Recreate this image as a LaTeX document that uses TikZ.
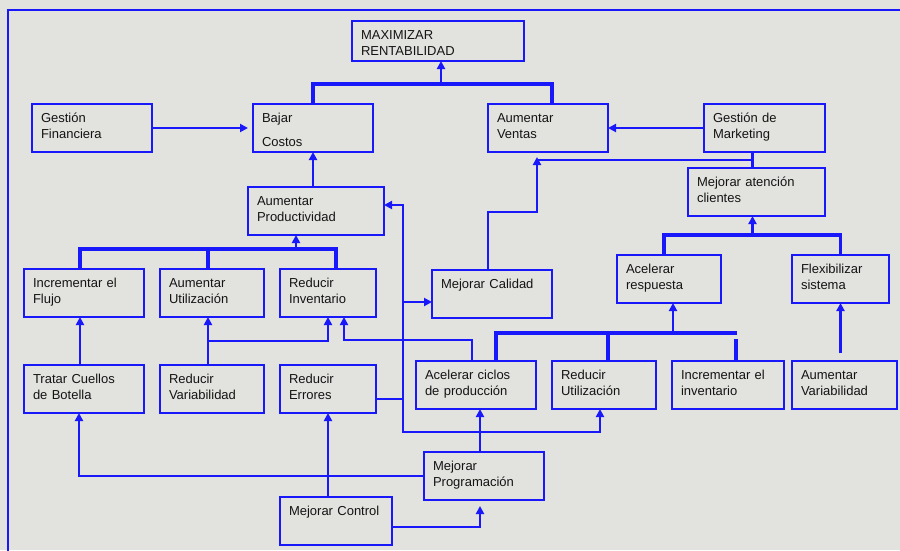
\documentclass[tikz,border=0pt]{standalone}
\usepackage{fontspec}
\setmainfont{Liberation Sans}
\definecolor{dgBlue}{RGB}{24, 24, 250}
\definecolor{dgBg}{RGB}{226, 226, 223}
\definecolor{dgText}{RGB}{20, 20, 20}
\usepackage{tikz}
\usetikzlibrary{
  arrows.meta,
  positioning
}
\tikzset{
  % Estilos de cajas
  basebox/.style={
    draw=dgBlue,
    line width=2pt,
    anchor=north west,
    align=left,
    minimum height=48pt,
    inner xsep=9pt,
    inner ysep=8pt,
    outer sep=0pt,
    text height=10pt,
    text depth=22pt,
    text=dgText,
    font=\fontsize{13}{16}\selectfont
  },
  objbox/.style={basebox, text width=#1},
  % Estilos de lineas y flechas
  link/.style={draw=dgBlue, line width=2.5pt},
  busline/.style={draw=dgBlue, line width=3.2pt},
  arrow/.style={link, -{Triangle[length=8pt, width=8pt]}},
  biarrow/.style={link, {Triangle[length=8pt, width=8pt]}-{Triangle[length=8pt, width=8pt]}},
  frameline/.style={draw=dgBlue, line width=1.6pt}
}

\begin{document}
\begin{tikzpicture}[x=1pt, y=-1pt]
  \fill[dgBg] (0,0) rectangle (900,550);
  \useasboundingbox (0,0) rectangle (900,550);
  \draw[frameline] (8,552) -- (8,10) -- (902,10);

  \node[objbox=154pt, minimum height=40pt, text depth=14pt] (max) at (352,21) {MAXIMIZAR\\RENTABILIDAD};
  \node[objbox=102pt] (fin) at (32,104) {Gestión\\Financiera};
  \node[objbox=102pt] (costos) at (253,104) {Bajar\\[8pt]Costos};
  \node[objbox=102pt] (ventas) at (488,104) {Aumentar\\Ventas};
  \node[objbox=103pt] (mkt) at (704,104) {Gestión de\\Marketing};
  \node[objbox=119pt] (atencion) at (688,168) {Mejorar atención\\clientes};
  \node[objbox=118pt] (prod) at (248,187) {Aumentar\\Productividad};

  \node[objbox=102pt] (flujo) at (24,269) {Incrementar el\\Flujo};
  \node[objbox=86pt, right=16pt of flujo] (util) {Aumentar\\Utilización};
  \node[objbox=78pt, right=16pt of util] (inv) {Reducir\\Inventario};
  \node[objbox=102pt] (calidad) at (432,270) {Mejorar Calidad};
  \node[objbox=86pt] (resp) at (617,255) {Acelerar\\respuesta};
  \node[objbox=79pt] (flex) at (792,255) {Flexibilizar\\sistema};

  \node[objbox=102pt, below=48pt of flujo] (cuellos) {Tratar Cuellos\\de Botella};
  \node[objbox=86pt, right=16pt of cuellos] (var) {Reducir\\Variabilidad};
  \node[objbox=78pt, right=16pt of var] (errores) {Reducir\\Errores};
  \node[objbox=102pt] (ciclos) at (416,361) {Acelerar ciclos\\de producción};
  \node[objbox=86pt, right=16pt of ciclos] (redutil) {Reducir\\Utilización};
  \node[objbox=94pt, right=16pt of redutil] (incinv) {Incrementar el\\inventario};
  \node[objbox=87pt, right=8pt of incinv] (aumvar) {Aumentar\\Variabilidad};

  \node[objbox=102pt] (prog) at (424,452) {Mejorar\\Programación};
  \node[objbox=94pt] (control) at (280,497) {Mejorar Control};

  \draw[busline] (costos.north) -- ++(0,-20) coordinate (topbar) -| ([xshift=4pt]ventas.north);
  \coordinate (maxin) at ([xshift=3pt]max.south);
  \draw[arrow] (maxin |- topbar) -- (maxin);

  \draw[arrow, shorten >=5pt] (fin.east) -- (costos.west);
  \draw[arrow] (prod.north -| costos.south) -- (costos.south);
  \draw[arrow] (mkt.west) -- (ventas.east);

  \coordinate (mkdown) at ([xshift=-12pt]mkt.south);
  \coordinate (vin) at ([xshift=-11pt]ventas.south);
  \draw[link] (mkdown) -- (mkdown |- atencion.north);
  \draw[link] (mkdown) ++(0,8) coordinate (mkjoin) -- (mkjoin -| vin);
  \draw[arrow, shorten >=5pt] ([xshift=-4pt]calidad.north) -- ++(0,-58) -| (vin);

  \draw[busline] ([xshift=-5pt]resp.north) -- ++(0,-20) coordinate (respbar) -| (flex.north);
  \draw[arrow] (mkdown |- respbar) -- (mkdown |- atencion.south);

  \coordinate (fl) at ([xshift=-4pt]flujo.north);
  \coordinate (ut) at ([xshift=-4pt]util.north);
  \coordinate (iv) at ([xshift=8pt]inv.north);
  \draw[busline] (fl) -- ++(0,-20) coordinate (prodbar) -| (iv);
  \draw[busline] (ut) -- (ut |- prodbar);
  \coordinate (pd) at ([xshift=-20pt]prod.south);
  \draw[arrow] (pd |- prodbar) -- (pd);

  \draw[arrow] (fl |- cuellos.north) -- (fl |- flujo.south);
  \draw[arrow] (ut |- var.north) -- (ut |- util.south);
  \draw[arrow] (ut |- var.north) ++(0,-24) -| (inv.south);
  \draw[arrow] ([xshift=-4pt]ciclos.north) -- ++(0,-21) -| ([xshift=16pt]inv.south);

  \draw[busline] ([xshift=20pt]ciclos.north) -- ++(0,-28) coordinate (cicbar) -- ++(241,0);
  \coordinate (rn) at ([xshift=4pt]redutil.north);
  \draw[busline] (rn) -- (rn |- cicbar);
  \draw[busline] ([xshift=8pt]incinv.north) -- ++(0,-22);
  \coordinate (rs) at ([xshift=4pt]resp.south);
  \draw[arrow] (rs |- cicbar) -- (rs);
  \draw[arrow, shorten <=8pt] (aumvar.north -| flex.south) -- (flex.south);

  \coordinate (pe) at ([yshift=6pt]prod.east);
  \coordinate (ru) at ([xshift=-4pt]redutil.south);
  \draw[biarrow] (pe) -- ++(19,0) coordinate (busx) -- ++(0,227) -| (ru);
  \coordinate (cw) at ([yshift=-8pt]calidad.west);
  \draw[arrow] (busx |- cw) -- (cw);
  \coordinate (ee) at ([yshift=-10pt]errores.east);
  \draw[link] (ee) -- (ee -| busx);

  \coordinate (pn) at ([xshift=-4pt]prog.north);
  \draw[arrow] (pn) -- (pn |- ciclos.south);
  \draw[arrow] (prog.west) -| ([xshift=-5pt]cuellos.south);
  \draw[arrow] (control.north -| errores.south) -- (errores.south);
  \draw[arrow, shorten >=6pt] ([yshift=-6pt]control.east) -| (pn |- prog.south);
\end{tikzpicture}
\end{document}
